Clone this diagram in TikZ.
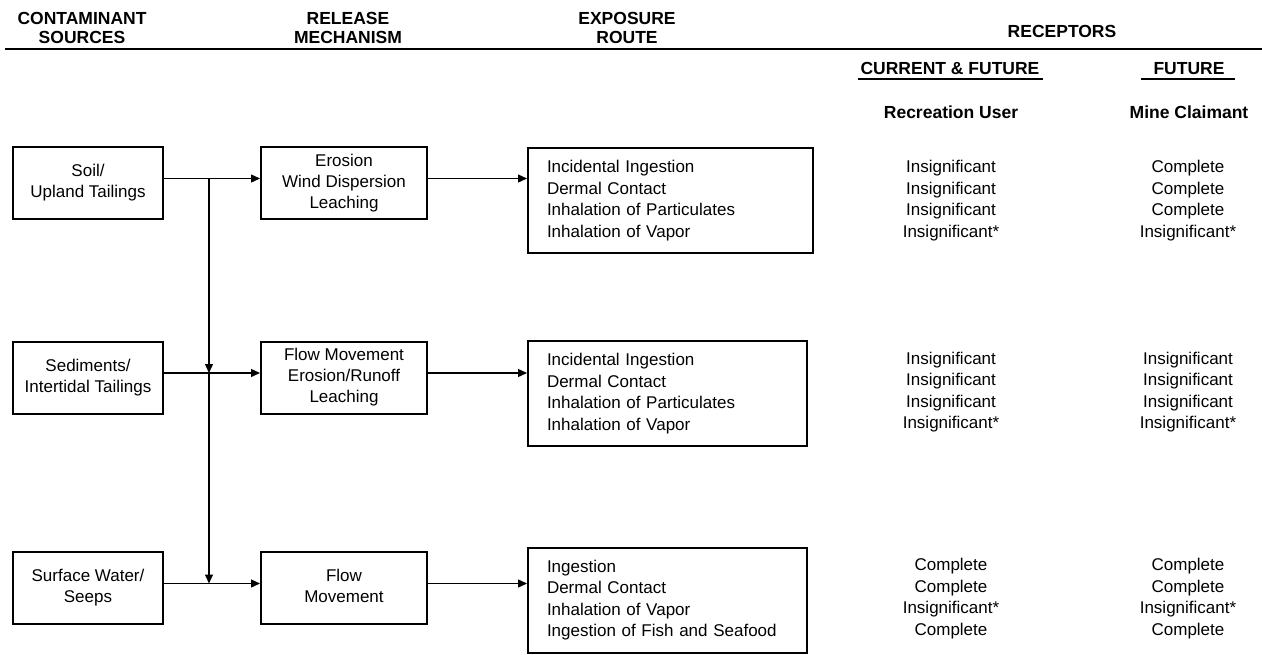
\documentclass[tikz,border=0pt]{standalone}
\usepackage{fontspec}
\setmainfont{Liberation Sans}
\usetikzlibrary{arrows.meta}
\begin{document}
\begin{tikzpicture}[x=1pt,y=-1pt,
  bx/.style={draw, line width=2pt, align=center, inner sep=0pt, font=\fontsize{17}{21}\selectfont},
  srcbox/.style={bx, minimum width=150pt, minimum height=72pt},
  relbox/.style={bx, minimum width=166pt, minimum height=72pt},
  expbox/.style={draw, line width=2pt, align=left, inner xsep=19pt, inner ysep=0pt, text width=#1, minimum height=105pt, font=\fontsize{17}{21.5}\selectfont},
  hd/.style={align=center, inner sep=0pt, font=\fontsize{17.5}{19}\selectfont\bfseries},
  rc/.style={align=center, inner sep=0pt, font=\fontsize{17}{21.5}\selectfont},
  arr/.style={line width=1.3pt, -{Triangle[length=9pt,width=8pt]}},
  rl/.style={line width=2pt}]
\useasboundingbox (0,0) rectangle (1262,654);

% headers
\node[hd] (hsrc) at (82,30) {\strut CONTAMINANT\\SOURCES\strut};
\node[hd] (hrel) at (348,30) {\strut RELEASE\\MECHANISM\strut};
\node[hd] (hexp) at (627,30) {\strut EXPOSURE\\ROUTE\strut};
\node[hd] (hrec) at (1062,33.5) {\strut RECEPTORS\strut};
\node[hd] (hcur) at (950,70.5) {\strut CURRENT \& FUTURE\strut};
\node[hd] (hfut) at (1189,70.5) {\strut FUTURE\strut};
\node[hd] (hru) at (951,114.5) {\strut Recreation User\strut};
\node[hd] (hmc) at (1189,114.5) {\strut Mine Claimant\strut};
\draw[rl] (5,49) -- (1262,49);
\draw[rl] (858,79) -- (1043,79);
\draw[rl] (1141,79) -- (1235,79);

% sources
\node[srcbox] (s1) at (88,183) {\strut Soil/\\Upland Tailings\strut};
\node[srcbox] (s2) at (88,377.5) {\strut Sediments/\\Intertidal Tailings\strut};
\node[srcbox] (s3) at (88,588) {\strut Surface Water/\\Seeps\strut};

% release
\node[relbox] (r1) at (344,183) {\strut Erosion\\Wind Dispersion\\Leaching\strut};
\node[relbox] (r2) at (344,377.5) {\strut Flow Movement\\Erosion/Runoff\\Leaching\strut};
\node[relbox] (r3) at (344,588) {\strut Flow\\Movement\strut};

% exposure
\node[expbox=247pt] (e1) at (670.5,200.5) {\strut Incidental Ingestion\\Dermal Contact\\Inhalation of Particulates\\Inhalation of Vapor\strut};
\node[expbox=241pt] (e2) at (667.5,393.5) {\strut Incidental Ingestion\\Dermal Contact\\Inhalation of Particulates\\Inhalation of Vapor\strut};
\node[expbox=241pt] (e3) at (667.5,600) {\strut Ingestion\\Dermal Contact\\Inhalation of Vapor\\Ingestion of Fish and Seafood\strut};

% receptors
\node[rc] (u1) at (951,200.5) {\strut Insignificant\\Insignificant\\Insignificant\\Insignificant*\strut};
\node[rc] (m1) at (1188,200.5) {\strut Complete\\Complete\\Complete\\Insignificant*\strut};
\node[rc] (u2) at (951,392) {\strut Insignificant\\Insignificant\\Insignificant\\Insignificant*\strut};
\node[rc] (m2) at (1188,392) {\strut Insignificant\\Insignificant\\Insignificant\\Insignificant*\strut};
\node[rc] (u3) at (951,598.5) {\strut Complete\\Complete\\Insignificant*\\Complete\strut};
\node[rc] (m3) at (1188,598.5) {\strut Complete\\Complete\\Insignificant*\\Complete\strut};

% connectors
\coordinate (j1) at ([yshift=4.5pt]s1.east);
\coordinate (j2) at ([yshift=4.5pt]s2.east);
\coordinate (j3) at ([yshift=4.5pt]s3.east);
\coordinate (vx) at (209,0);
\draw[arr] (j1) -- (r1.west |- j1);
\draw[arr] (r1.east |- j1) -- (e1.west |- j1);
\draw[arr] (j2) -- (r2.west |- j2);
\draw[arr] (r2.east |- j2) -- (e2.west |- j2);
\draw[arr] (j3) -- (r3.west |- j3);
\draw[arr] (r3.east |- j3) -- (e3.west |- j3);
\draw[arr] (vx |- j1) -- (vx |- j2);
\draw[arr] (vx |- j2) -- (vx |- j3);
\end{tikzpicture}
\end{document}
